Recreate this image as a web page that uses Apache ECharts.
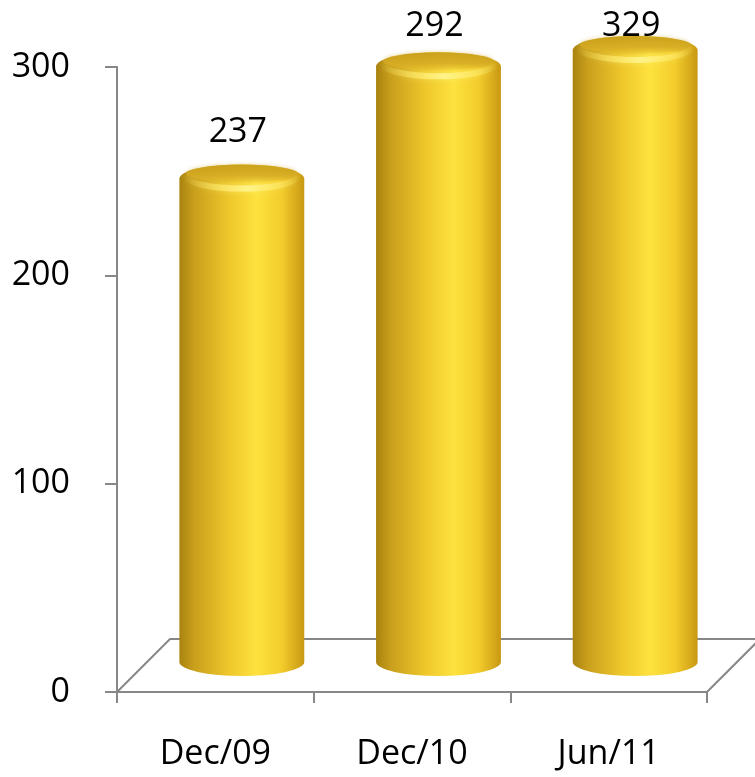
<!DOCTYPE html>
<html>
<head>
<meta charset="utf-8">
<script src="https://cdn.jsdelivr.net/npm/echarts@6/dist/echarts.min.js"></script>
<style>
  html, body { margin: 0; padding: 0; background: #fff; }
  #chart { width: 755px; height: 777px; }
</style>
</head>
<body>
<div id="chart"></div>
<script>
// Period labels and the counts for each period
const categories = ['Dec/09', 'Dec/10', 'Jun/11'];
const values = [237, 292, 329];
// Value axis ticks
const yTicks = [0, 100, 200, 300];

const AXIS_MAX = yTicks[yTicks.length - 1];
const AXIS_INTERVAL = yTicks[1] - yTicks[0];
const DEPTH = 53;            // 3D floor depth offset in px
const GRAY = '#878787';
const FONT = 'Open Sans';

const chart = echarts.init(document.getElementById('chart'));

// Floor outline behind the bars (back edge and the two side edges)
function renderFloor(params, api) {
  const cs = params.coordSys;
  const left = cs.x, right = cs.x + cs.width, bottom = cs.y + cs.height;
  return {
    type: 'group',
    children: [
      {
        type: 'polyline',
        shape: { points: [[left, bottom], [left + DEPTH, bottom - DEPTH], [right + DEPTH, bottom - DEPTH]] },
        style: { stroke: GRAY, lineWidth: 2, fill: null }
      },
      {
        type: 'line',
        shape: { x1: right, y1: bottom, x2: right + DEPTH, y2: bottom - DEPTH },
        style: { stroke: GRAY, lineWidth: 2 }
      }
    ]
  };
}

function ellipsePath(cx, cy, rx, ry) {
  return 'M' + (cx - rx) + ' ' + cy +
    ' A' + rx + ' ' + ry + ' 0 0 1 ' + (cx + rx) + ' ' + cy +
    ' A' + rx + ' ' + ry + ' 0 0 1 ' + (cx - rx) + ' ' + cy + ' Z';
}

// Golden cylinder with a bevelled top cap and a value label
function renderCylinder(params, api) {
  const cs = params.coordSys;
  const i = api.value(0);
  const v = api.value(1);
  const base = api.coord([i, 0]);
  const topRaw = api.coord([i, v]);
  const topY = Math.max(topRaw[1], cs.y);           // clipped at the axis maximum
  const w = api.size([1, 0])[0] * 0.635;
  const rx = w / 2, ry = 14;
  const cx = base[0], x0 = cx - rx, x1 = cx + rx, by = base[1];

  const bodyFill = new echarts.graphic.LinearGradient(0, 0, 1, 0, [
    { offset: 0, color: '#a9830f' },
    { offset: 0.12, color: '#c99f1c' },
    { offset: 0.4, color: '#efc82c' },
    { offset: 0.62, color: '#fde23e' },
    { offset: 0.82, color: '#f3cc2c' },
    { offset: 1, color: '#c89812' }
  ]);
  const capFill = new echarts.graphic.LinearGradient(0, 0, 0, 1, [
    { offset: 0, color: 'rgba(200,158,26,0.9)' },
    { offset: 0.6, color: 'rgba(214,172,36,0.85)' },
    { offset: 1, color: 'rgba(230,190,46,0.2)' }
  ]);
  const lipStroke = new echarts.graphic.LinearGradient(0, 0, 1, 0, [
    { offset: 0, color: 'rgba(255,236,110,0)' },
    { offset: 0.3, color: 'rgba(255,236,110,0.6)' },
    { offset: 0.55, color: 'rgba(255,244,140,0.95)' },
    { offset: 0.8, color: 'rgba(255,236,110,0.6)' },
    { offset: 1, color: 'rgba(255,236,110,0)' }
  ]);

  const labelY = Math.max(topY - 46, cs.y - 24);

  return {
    type: 'group',
    children: [
      // side and rounded shoulder silhouette
      {
        type: 'path',
        shape: {
          pathData: 'M' + x0 + ' ' + topY + ' L' + x0 + ' ' + by +
            ' A' + rx + ' ' + ry + ' 0 0 0 ' + x1 + ' ' + by +
            ' L' + x1 + ' ' + topY +
            ' A' + rx + ' ' + ry + ' 0 0 0 ' + x0 + ' ' + topY + ' Z'
        },
        style: { fill: bodyFill }
      },
      // soft bright bevel band under the top face
      {
        type: 'path',
        shape: {
          pathData: 'M' + (x0 + 6) + ' ' + (topY - 3) +
            ' A' + (rx - 6) + ' ' + (ry - 1) + ' 0 0 0 ' + (x1 - 6) + ' ' + (topY - 3)
        },
        style: {
          fill: null, stroke: lipStroke, lineWidth: 6,
          shadowBlur: 6, shadowColor: 'rgba(255,240,120,0.6)'
        }
      },
      // recessed top face
      {
        type: 'path',
        shape: { pathData: ellipsePath(cx, topY - 5, rx - 7, ry - 5) },
        style: { fill: capFill, shadowBlur: 4, shadowColor: 'rgba(200,158,26,0.5)' }
      },
      {
        type: 'text',
        style: {
          text: String(v),
          x: cx - 4,
          y: labelY,
          align: 'center',
          verticalAlign: 'middle',
          font: '34px "' + FONT + '"',
          fill: '#000'
        }
      }
    ]
  };
}

chart.setOption({
  animation: false,
  backgroundColor: '#fff',
  grid: [
    { left: 117, right: 48, top: 67, bottom: 85 },
    { left: 117 + DEPTH / 2, right: 48 - DEPTH / 2, top: 50, bottom: 115 }
  ],
  xAxis: [
    {
      gridIndex: 0,
      type: 'category',
      data: categories,
      boundaryGap: true,
      axisLine: { show: true, lineStyle: { color: GRAY, width: 2 } },
      axisTick: { show: true, length: 11, lineStyle: { color: GRAY, width: 2 } },
      axisLabel: { margin: 45, fontFamily: FONT, fontSize: 34, color: '#000' },
      splitLine: { show: false }
    },
    {
      gridIndex: 1,
      type: 'category',
      data: categories,
      boundaryGap: true,
      show: false
    }
  ],
  yAxis: [
    {
      gridIndex: 0,
      type: 'value',
      min: 0,
      max: AXIS_MAX,
      interval: AXIS_INTERVAL,
      axisLine: { show: true, lineStyle: { color: GRAY, width: 2 } },
      axisTick: { show: true, length: 12, lineStyle: { color: GRAY, width: 2 } },
      axisLabel: { margin: 47, fontFamily: FONT, fontSize: 34, color: '#000' },
      splitLine: { show: false }
    },
    {
      gridIndex: 1,
      type: 'value',
      min: 0,
      max: AXIS_MAX,
      show: false,
      splitLine: { show: false }
    }
  ],
  series: [
    {
      type: 'custom',
      xAxisIndex: 0,
      yAxisIndex: 0,
      renderItem: renderFloor,
      data: [[0, 0]],
      z: 1,
      silent: true
    },
    {
      type: 'custom',
      xAxisIndex: 1,
      yAxisIndex: 1,
      renderItem: renderCylinder,
      data: values.map((v, i) => [i, v]),
      z: 5,
      clip: false
    }
  ]
});
</script>
</body>
</html>
